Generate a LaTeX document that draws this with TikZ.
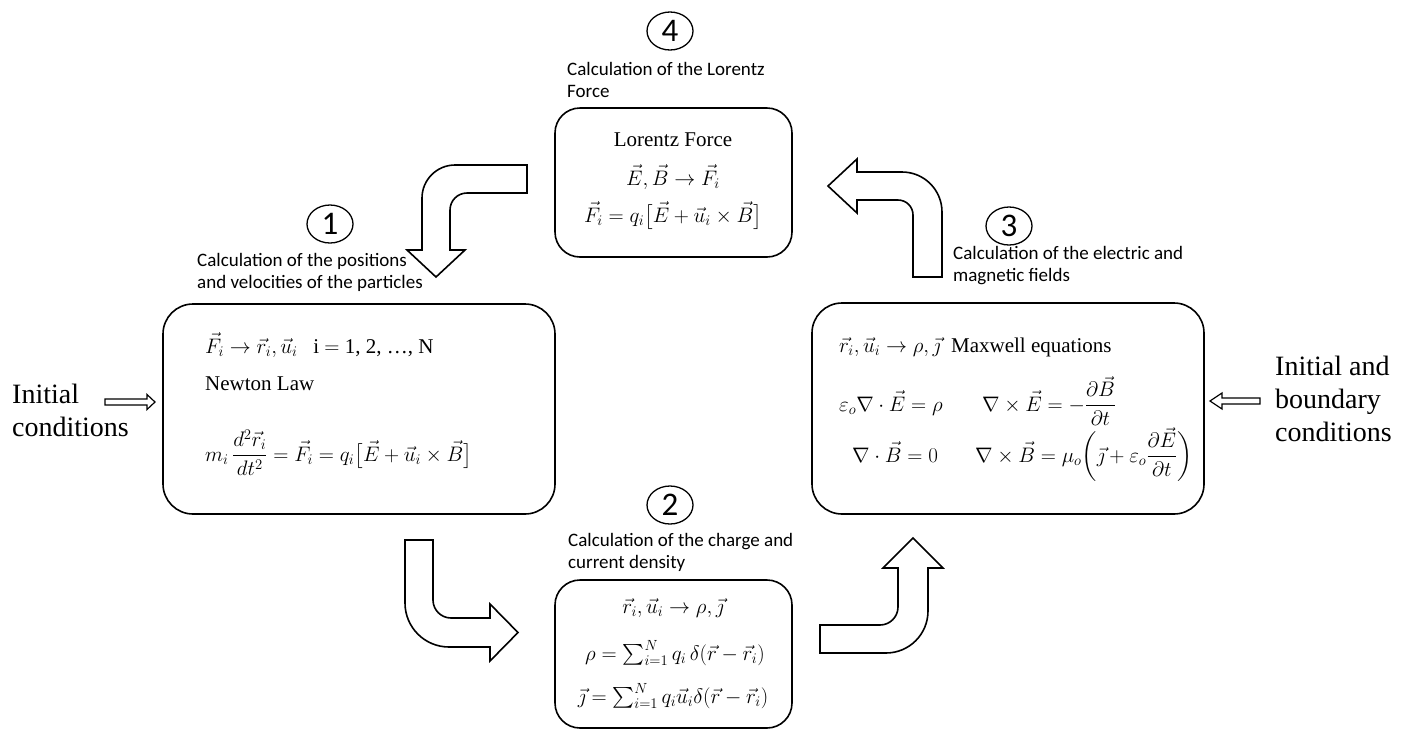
\RequirePackage{fix-cm}
\documentclass[tikz,border=0pt]{standalone}
\usepackage{amsmath}
\usepackage{fontspec}
\setmainfont{Liberation Serif}
\newfontfamily\labfont{Carlito}
\usetikzlibrary{shapes.geometric}
\tikzset{
  box/.style={draw, line width=1.6pt, inner sep=0pt},
  lab/.style={font=\labfont\fontsize{19}{22}\selectfont, align=left, inner sep=0pt},
  txt/.style={font=\fontsize{21}{25}\selectfont, inner sep=0pt},
  num/.style={draw, ellipse, line width=1.3pt, minimum width=46pt, minimum height=38pt, inner sep=0pt, font=\labfont\fontsize{33}{33}\selectfont},
  blk/.style={draw, line width=1.6pt, line join=miter, fill=white},
  big/.style={font=\fontsize{28}{33}\selectfont, align=left, inner sep=0pt}
}
\begin{document}
\begin{tikzpicture}[x=1pt,y=-1pt]
\useasboundingbox (0,0) rectangle (1409,732);
% boxes
\node[box, rounded corners=30pt, minimum width=392pt, minimum height=210pt] (b1) at (359,409) {};
\node[box, rounded corners=30pt, minimum width=392pt, minimum height=211pt] (b3) at (1008,408.5) {};
\node[box, rounded corners=25pt, minimum width=237pt, minimum height=149pt] (b4) at (673.5,182.5) {};
\node[box, rounded corners=25pt, minimum width=237pt, minimum height=148pt] (b2) at (673.5,654) {};
% numbers
\node[num] (c4) at (670,31) {4};
\node[num] (c1) at (330,224) {1};
\node[num] (c3) at (1009,226) {3};
\node[num] (c2) at (670,505) {2};
% labels (anchor = baseline of last line)
\node[lab, anchor=base west] (l4) at (567,97) {Calculation of the Lorentz\\Force};
\node[lab, anchor=base west] (l1) at (197,288) {Calculation of the positions\\and velocities of the particles};
\node[lab, anchor=base west] (l3) at (953,281) {Calculation of the electric and\\magnetic fields};
\node[lab, anchor=base west] (l2) at (568,568) {Calculation of the charge and\\current density};
% box 1
\node[txt, anchor=base west] (b1a) at (205,353) {$\vec F_i\to\vec r_i,\vec u_i$\ \ \ i $=$ 1, 2, \ldots, N};
\node[txt, anchor=base west] (b1b) at (205,390) {Newton Law};
\node[txt, anchor=base west] (b1c) at (205,461) {$m_i\,\dfrac{d^2\vec r_i}{dt^2}=\vec F_i=q_i\bigl[\vec E+\vec u_i\times\vec B\bigr]$};
% box 3
\node[txt, anchor=base west] (b3a) at (839,352) {$\vec r_i,\vec u_i\to\rho,\vec\jmath$\ \ Maxwell equations};
\node[txt, anchor=base west] (b3b) at (839,411) {$\varepsilon_o\nabla\cdot\vec E=\rho$};
\node[txt, anchor=base west] (b3c) at (982,411) {$\nabla\times\vec E=-\dfrac{\partial\vec B}{\partial t}$};
\node[txt, anchor=base west] (b3d) at (852,462) {$\nabla\cdot\vec B=0$};
\node[txt, anchor=base west] (b3e) at (975,462) {$\nabla\times\vec B=\mu_o\biggl(\vec\jmath+\varepsilon_o\dfrac{\partial\vec E}{\partial t}\biggr)$};
% box 4
\node[txt, anchor=base] (b4a) at (673,146) {Lorentz Force};
\node[txt, anchor=base] (b4b) at (673,185) {$\vec E,\vec B\to\vec F_i$};
\node[txt, anchor=base] (b4c) at (673,222) {$\vec F_i=q_i\bigl[\vec E+\vec u_i\times\vec B\bigr]$};
% box 2
\node[txt, anchor=base] (b2a) at (673,613) {$\vec r_i,\vec u_i\to\rho,\vec\jmath$};
\node[txt, anchor=base] (b2b) at (675,660) {$\rho=\sum_{i=1}^{N}q_i\,\delta(\vec r-\vec r_i)$};
\node[txt, anchor=base] (b2c) at (673,703) {$\vec\jmath=\sum_{i=1}^{N}q_i\vec u_i\delta(\vec r-\vec r_i)$};
% side texts (anchor = baseline of last line)
\node[big, anchor=base west] (ic) at (12,436) {Initial\\conditions};
\node[big, anchor=base west] (bc) at (1275,441) {Initial and\\boundary\\conditions};
% small arrows
\draw[blk, line width=1.2pt] (105,399) -- (147,399) -- (147,394.5) -- (155,402) -- (147,409.5) -- (147,405) -- (105,405) -- cycle;
\draw[blk, line width=1.2pt] (1260,398) -- (1222,398) -- (1222,393) -- (1210,401) -- (1222,409) -- (1222,404) -- (1260,404) -- cycle;
% block arrow A (4 -> 1)
\draw[blk] (527,165) -- (455,165) .. controls (436.8,165) and (422,179.8) .. (422,198) -- (422,250) -- (407,250) -- (436,277) -- (465,250) -- (450,250) -- (450,210) .. controls (450,200.6) and (457.6,193) .. (467,193) -- (527,193) -- cycle;
% block arrow B (3 -> 4)
\draw[blk] (913,277) -- (942,277) -- (942,212) .. controls (942,189.9) and (924.1,172) .. (902,172) -- (857,172) -- (857,159) -- (828,186) -- (857,213) -- (857,200) -- (898,200) .. controls (906.3,200) and (913,206.7) .. (913,215) -- cycle;
% block arrow C (1 -> 2)
\draw[blk] (405,540) -- (433,540) -- (433,600) .. controls (433,609.9) and (441.1,618) .. (451,618) -- (490,618) -- (490,604) -- (518,632.5) -- (490,661) -- (490,647) -- (449,647) .. controls (424.7,647) and (405,627.3) .. (405,603) -- cycle;
% block arrow D (2 -> 3)
\draw[blk] (820,625) -- (880,625) .. controls (889.9,625) and (898,616.9) .. (898,607) -- (898,568) -- (883,568) -- (913,538) -- (943,568) -- (928,568) -- (928,611) .. controls (928,634.2) and (909.2,653) .. (886,653) -- (820,653) -- cycle;
\end{tikzpicture}
\end{document}
